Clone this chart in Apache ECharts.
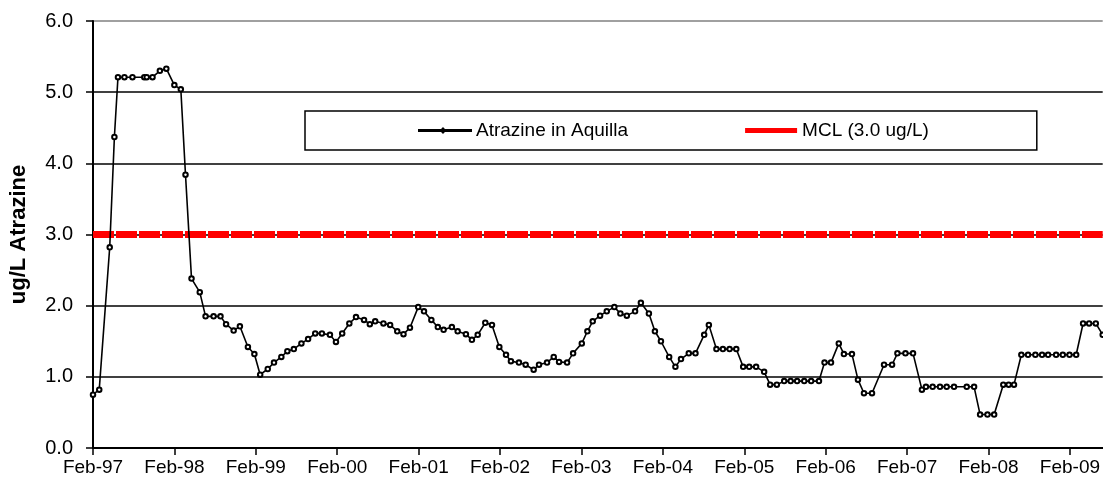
<!DOCTYPE html>
<html>
<head>
<meta charset="utf-8">
<script src="https://cdn.jsdelivr.net/npm/echarts@6/dist/echarts.min.js"></script>
<style>
html,body{margin:0;padding:0;background:#fff;}
#chart{width:1103px;height:482px;}
</style>
</head>
<body>
<div id="chart"></div>
<script>
// ---- data ----
const axisStart = '1997-02-01';
const sampleDates = [
'1997-02-01','1997-03-01','1997-04-17','1997-05-08','1997-05-24','1997-06-22','1997-07-28','1997-09-19','1997-09-30','1997-10-26',
'1997-11-28','1997-12-27','1998-02-01','1998-03-02','1998-03-23','1998-04-19','1998-05-26','1998-06-21','1998-07-27','1998-08-27',
'1998-09-21','1998-10-25','1998-11-22','1998-12-28','1999-01-26','1999-02-21','1999-03-27','1999-04-24','1999-05-27','1999-06-23',
'1999-07-22','1999-08-25','1999-09-24','1999-10-26','1999-11-25','1999-12-31','2000-01-27','2000-02-24','2000-03-27','2000-04-26',
'2000-06-01','2000-06-27','2000-07-21','2000-08-27','2000-09-26','2000-10-28','2000-11-25','2000-12-24','2001-01-30','2001-02-25',
'2001-03-30','2001-04-28','2001-05-24','2001-06-30','2001-07-26','2001-09-01','2001-09-28','2001-10-24','2001-11-27','2001-12-27',
'2002-01-29','2002-02-28','2002-03-22','2002-04-27','2002-05-27','2002-07-02','2002-07-26','2002-08-31','2002-09-30','2002-10-24',
'2002-11-29','2002-12-26','2003-02-03','2003-02-28','2003-03-24','2003-04-26','2003-05-26','2003-06-29','2003-07-26','2003-08-24',
'2003-09-30','2003-10-26','2003-12-01','2003-12-28','2004-01-24','2004-03-01','2004-03-29','2004-04-23','2004-05-28','2004-06-27',
'2004-08-05','2004-08-26','2004-09-29','2004-10-28','2004-11-27','2004-12-27','2005-01-27','2005-02-23','2005-03-26','2005-05-01',
'2005-05-28','2005-06-27','2005-07-30','2005-08-28','2005-09-26','2005-10-28','2005-11-28','2006-01-02','2006-01-27','2006-02-25',
'2006-04-01','2006-04-24','2006-05-30','2006-06-26','2006-07-23','2006-08-28','2006-10-21','2006-11-26','2006-12-20','2007-01-25',
'2007-02-28','2007-04-09','2007-04-27','2007-05-27','2007-06-29','2007-07-29','2007-08-31','2007-10-27','2007-11-29','2007-12-26',
'2008-01-28','2008-02-27','2008-04-08','2008-05-02','2008-05-26','2008-06-28','2008-07-28','2008-08-30','2008-09-29','2008-10-26',
'2008-12-01','2008-12-31','2009-01-30','2009-03-01','2009-04-01','2009-04-28','2009-05-28','2009-06-28'
];
const atrazine = [
0.75,0.82,2.82,4.37,5.21,5.21,5.21,5.21,5.21,5.21,
5.30,5.33,5.10,5.04,3.84,2.38,2.19,1.85,1.85,1.85,
1.74,1.65,1.71,1.42,1.32,1.03,1.11,1.20,1.28,1.36,
1.39,1.47,1.53,1.61,1.61,1.59,1.49,1.61,1.75,1.84,
1.80,1.74,1.78,1.75,1.73,1.64,1.60,1.69,1.98,1.92,
1.80,1.70,1.66,1.70,1.64,1.60,1.52,1.59,1.76,1.73,
1.42,1.31,1.22,1.20,1.17,1.10,1.17,1.20,1.28,1.21,
1.20,1.33,1.47,1.64,1.78,1.86,1.92,1.98,1.89,1.86,
1.92,2.04,1.89,1.64,1.50,1.28,1.14,1.25,1.33,1.33,
1.59,1.73,1.39,1.39,1.39,1.39,1.14,1.14,1.14,1.07,
0.89,0.89,0.94,0.94,0.94,0.94,0.94,0.94,1.20,1.20,
1.47,1.32,1.32,0.96,0.77,0.77,1.17,1.17,1.33,1.33,
1.33,0.82,0.86,0.86,0.86,0.86,0.86,0.86,0.86,0.47,
0.47,0.47,0.89,0.89,0.89,1.31,1.31,1.31,1.31,1.31,
1.31,1.31,1.31,1.31,1.75,1.75,1.75,1.59
];
const mclValue = 3.0;
const seriesNames = ['Atrazine in Aquilla', 'MCL (3.0 ug/L)'];
const yAxisTitle = 'ug/L Atrazine';
const yTicks = [0, 1, 2, 3, 4, 5, 6];
const tickMonthName = 'Feb';

// ---- helpers ----
const DAY = 86400000;
function monthsSince(d) {
  return (Date.parse(d + 'T00:00:00Z') - Date.parse(axisStart + 'T00:00:00Z')) / DAY / (365.25 / 12);
}
const xs = sampleDates.map(monthsSince);
const lineData = xs.map((x, i) => [x, atrazine[i]]);
const xMax = xs[xs.length - 1];
const mclData = [[0, mclValue], [xMax, mclValue]];
const startYear = parseInt(axisStart.slice(0, 4), 10);

const font = 'Arial, "Liberation Sans", Helvetica, sans-serif';
const chart = echarts.init(document.getElementById('chart'), null, {renderer: 'canvas'});
chart.setOption({
  animation: false,
  backgroundColor: '#fff',
  textStyle: {fontFamily: font},
  grid: {left: 92, right: 0, top: 21, bottom: 34, containLabel: false},
  legend: {
    left: 305, top: 111,
    padding: [10, 108, 10, 113],
    itemGap: 117,
    itemWidth: 52, itemHeight: 5,
    borderColor: '#000', borderWidth: 1.5, borderRadius: 0,
    textStyle: {fontFamily: font, fontSize: 19, color: '#000'},
    data: [
      {name: seriesNames[0], icon: 'path://M0,4.4H52V5.6H0Z M24,3L26,5L24,7L22,5Z'},
      {name: seriesNames[1], icon: 'path://M0,0H52V5H0Z'}
    ]
  },
  xAxis: {
    type: 'value', min: 0, max: xMax, interval: 12,
    axisLine: {show: true, lineStyle: {color: '#000', width: 2}},
    axisTick: {show: true, length: 7, lineStyle: {color: '#000', width: 1.5}},
    splitLine: {show: false},
    axisLabel: {
      fontFamily: font, fontSize: 19, color: '#000', margin: 10, showMaxLabel: false,
      formatter: function (v) {
        if (Math.abs(v % 12) > 1e-6) return '';
        const y = startYear + Math.round(v / 12);
        return tickMonthName + '-' + String(y).slice(2);
      }
    }
  },
  yAxis: {
    type: 'value', min: yTicks[0], max: yTicks[yTicks.length - 1], interval: 1,
    name: yAxisTitle, nameLocation: 'middle', nameGap: 63, nameRotate: 90,
    nameTextStyle: {fontFamily: font, fontSize: 22, fontWeight: 'bold', color: '#000'},
    axisLine: {show: true, lineStyle: {color: '#000', width: 2}},
    axisTick: {show: true, length: 7, lineStyle: {color: '#000', width: 1.5}},
    splitLine: {show: true, lineStyle: {color: ['#000','#000','#000','#000','#000','#000','#808080'], width: 1.5}},
    axisLabel: {fontFamily: font, fontSize: 20, color: '#000', margin: 20,
      formatter: v => v.toFixed(1)}
  },
  series: [
    {
      name: seriesNames[0], type: 'line', data: lineData,
      symbol: 'emptyCircle', symbolSize: 4.5, showAllSymbol: true,
      lineStyle: {color: '#000', width: 1.6},
      itemStyle: {color: '#000', borderColor: '#000', borderWidth: 1},
      z: 3
    },
    {
      name: seriesNames[1], type: 'line', data: mclData,
      symbol: 'none',
      lineStyle: {color: '#FF0000', width: 7, type: [21, 2]},
      itemStyle: {color: '#FF0000'},
      z: 2
    }
  ]
});
</script>
</body>
</html>
